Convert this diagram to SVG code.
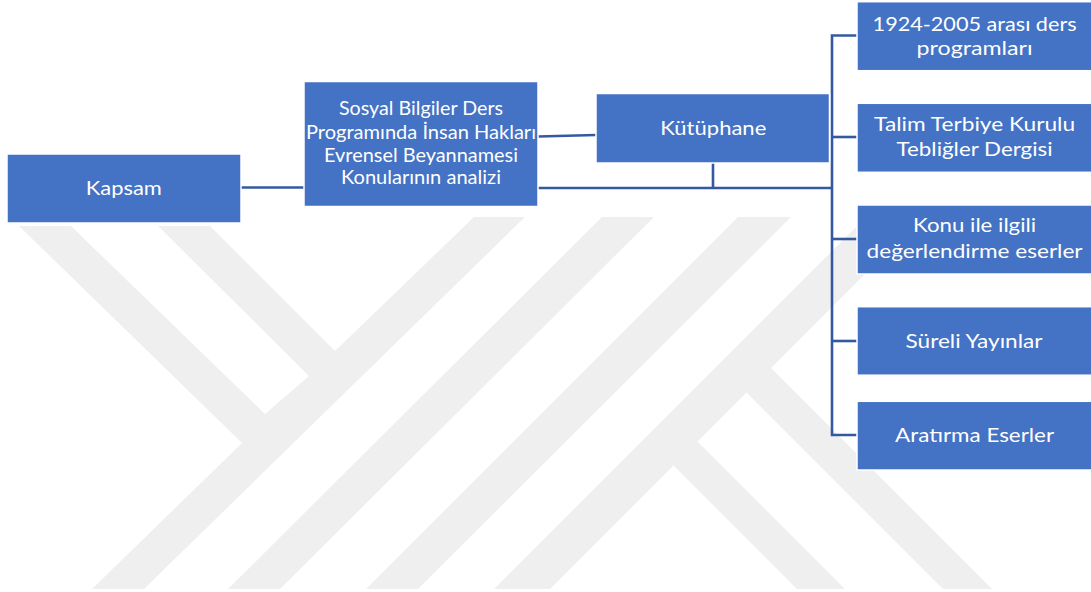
<svg xmlns="http://www.w3.org/2000/svg" width="1091" height="592" viewBox="0 0 1091 592">
<style>
.wm{fill:#efefef;stroke:none}
.box{fill:#4472c4;stroke:#ffffff;stroke-width:1.5}
.lbl{fill:#ffffff;font-family:Lato,"Open Sans","Liberation Sans",sans-serif;font-size:19px;font-weight:400;text-anchor:middle}
.con{fill:none;stroke:#3559a0;stroke-width:2.6}
</style>
<rect x="0" y="0" width="1091" height="592" fill="#ffffff"/>
<g id="watermark">
<polygon class="wm" points="19,226 71,226 265,414 309,376 158,226 210,226 335,351 474,217 525,217 144,589 92,589 242,443"/>
<polygon class="wm" points="602,217 654,217 280,589 228,589"/>
<polygon class="wm" points="738,217 791,217 418,589 366,589"/>
<polygon class="wm" points="866,217 922,217 771,368 992,589 943,589 746.5,392.5 697.5,441.5 845,589 797,589 673.5,465.5 550,589 494,589"/>
</g>
<g id="connectors">
<line class="con" x1="241" y1="187.5" x2="304" y2="187.5"/>
<line class="con" x1="538" y1="136.5" x2="596" y2="135"/>
<line class="con" x1="538" y1="188" x2="832" y2="188"/>
<line class="con" x1="713" y1="163" x2="713" y2="188"/>
<path class="con" d="M857,35.5 H832 V435 H857"/>
<line class="con" x1="832" y1="137" x2="857" y2="137"/>
<line class="con" x1="832" y1="239" x2="857" y2="239"/>
<line class="con" x1="832" y1="341" x2="857" y2="341"/>
</g>
<g id="kapsam">
<rect class="box" x="7" y="154" width="234" height="69"/>
<text class="lbl" x="123.8" y="195" textLength="76" lengthAdjust="spacingAndGlyphs">Kapsam</text>
</g>
<g id="sosyal">
<rect class="box" x="304" y="81.5" width="234" height="125"/>
<text class="lbl" x="421" y="115.3" textLength="164" lengthAdjust="spacingAndGlyphs">Sosyal Bilgiler Ders</text>
<text class="lbl" x="421" y="138.5" textLength="230" lengthAdjust="spacingAndGlyphs">Programında İnsan Hakları</text>
<text class="lbl" x="421" y="161.5" textLength="194" lengthAdjust="spacingAndGlyphs">Evrensel Beyannamesi</text>
<text class="lbl" x="421" y="184.3" textLength="160" lengthAdjust="spacingAndGlyphs">Konularının analizi</text>
</g>
<g id="kutuphane">
<rect class="box" x="596" y="93.5" width="233.5" height="69.5"/>
<text class="lbl" x="713.3" y="134.7" textLength="106" lengthAdjust="spacingAndGlyphs">Kütüphane</text>
</g>
<g id="ders-programlari">
<rect class="box" x="857" y="1.7" width="236" height="69"/>
<text class="lbl" x="974.6" y="30.7" textLength="204" lengthAdjust="spacingAndGlyphs">1924-2005 arası ders</text>
<text class="lbl" x="974.6" y="55" textLength="116" lengthAdjust="spacingAndGlyphs">programları</text>
</g>
<g id="talim-terbiye">
<rect class="box" x="857" y="103.3" width="236" height="69"/>
<text class="lbl" x="974.6" y="131" textLength="201" lengthAdjust="spacingAndGlyphs">Talim Terbiye Kurulu</text>
<text class="lbl" x="974.6" y="156" textLength="156" lengthAdjust="spacingAndGlyphs">Tebliğler Dergisi</text>
</g>
<g id="konu-ilgili">
<rect class="box" x="857" y="205" width="236" height="69"/>
<text class="lbl" x="974.6" y="232.3" textLength="123" lengthAdjust="spacingAndGlyphs">Konu ile ilgili</text>
<text class="lbl" x="974.6" y="258" textLength="216" lengthAdjust="spacingAndGlyphs">değerlendirme eserler</text>
</g>
<g id="sureli-yayinlar">
<rect class="box" x="857" y="306.7" width="236" height="68.5"/>
<text class="lbl" x="974" y="348" textLength="137" lengthAdjust="spacingAndGlyphs">Süreli Yayınlar</text>
</g>
<g id="aratirma-eserler">
<rect class="box" x="857" y="401.3" width="236" height="68.7"/>
<text class="lbl" x="974.6" y="441.7" textLength="159" lengthAdjust="spacingAndGlyphs">Aratırma Eserler</text>
</g>
</svg>
